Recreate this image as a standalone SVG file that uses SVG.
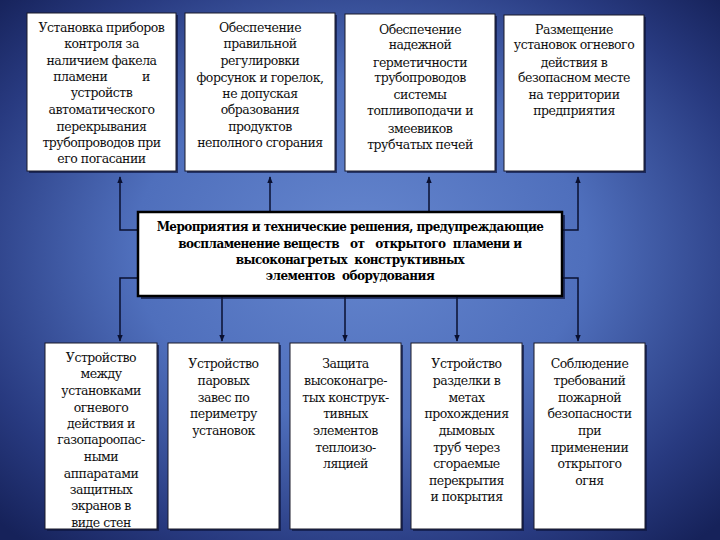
<svg xmlns="http://www.w3.org/2000/svg" width="720" height="540" viewBox="0 0 720 540">
<defs>
<radialGradient id="bg" cx="50%" cy="48%" r="70%" fx="50%" fy="45%">
<stop offset="0" stop-color="#6586ce"/>
<stop offset="0.45" stop-color="#4f6fbc"/>
<stop offset="0.8" stop-color="#283a80"/>
<stop offset="1" stop-color="#16225a"/>
</radialGradient>
<marker id="ah" viewBox="0 0 10 10" refX="9" refY="5" markerWidth="7" markerHeight="7" orient="auto" markerUnits="userSpaceOnUse">
<path d="M0,1 L10,5 L0,9 z" fill="#0a1030"/>
</marker>
<style>
.box{fill:#fff;stroke:#1a1a2a;stroke-width:1}
.shadow{fill:#0d1640;opacity:0.7}
.main{fill:#fff;stroke:#000;stroke-width:2.5}
.t{font-family:"DejaVu Serif",serif;font-size:12.5px;letter-spacing:-0.5px;fill:#111;text-anchor:middle}
.b{font-family:"DejaVu Serif",serif;font-size:12px;letter-spacing:-0.55px;font-weight:bold;fill:#000;text-anchor:middle}
.c{fill:none;stroke:#0a1030;stroke-width:1.5}
</style>
</defs>
<rect x="0" y="0" width="720" height="540" fill="url(#bg)"/>

<g id="connectors">
<polyline class="c" points="138,230 120,230 120,177" marker-end="url(#ah)"/>
<line class="c" x1="270" y1="212" x2="270" y2="177" marker-end="url(#ah)"/>
<line class="c" x1="429" y1="212" x2="429" y2="177" marker-end="url(#ah)"/>
<polyline class="c" points="562,230 578,230 578,177" marker-end="url(#ah)"/>
<polyline class="c" points="138,278 120,278 120,341" marker-end="url(#ah)"/>
<line class="c" x1="222" y1="296" x2="222" y2="341" marker-end="url(#ah)"/>
<line class="c" x1="345" y1="296" x2="345" y2="341" marker-end="url(#ah)"/>
<line class="c" x1="457" y1="296" x2="457" y2="341" marker-end="url(#ah)"/>
<polyline class="c" points="562,278 578,278 578,341" marker-end="url(#ah)"/>
</g>

<g id="top1">
<rect class="shadow" x="29" y="15" width="149" height="158"/>
<rect class="box" x="27" y="13" width="149" height="158"/>
<text class="t" x="101.5" y="32">Установка приборов</text>
<text class="t" x="101.5" y="48">контроля за</text>
<text class="t" x="101.5" y="65">наличием  факела</text>
<text class="t" x="101.5" y="81" xml:space="preserve">пламени          и</text>
<text class="t" x="101.5" y="97">устройств</text>
<text class="t" x="101.5" y="114">автоматического</text>
<text class="t" x="101.5" y="131">перекрывания</text>
<text class="t" x="101.5" y="147">трубопроводов при</text>
<text class="t" x="101.5" y="163">его  погасании</text>
</g>

<g id="top2">
<rect class="shadow" x="187" y="15" width="150" height="158"/>
<rect class="box" x="185" y="13" width="150" height="158"/>
<text class="t" x="260" y="32">Обеспечение</text>
<text class="t" x="260" y="48">правильной</text>
<text class="t" x="260" y="65">регулировки</text>
<text class="t" x="260" y="82">форсунок  и горелок,</text>
<text class="t" x="260" y="98">не допуская</text>
<text class="t" x="260" y="114">образования</text>
<text class="t" x="260" y="131">продуктов</text>
<text class="t" x="260" y="147">неполного сгорания</text>
</g>

<g id="top3">
<rect class="shadow" x="347" y="16" width="150" height="157"/>
<rect class="box" x="345" y="14" width="150" height="157"/>
<text class="t" x="420" y="34">Обеспечение</text>
<text class="t" x="420" y="49">надежной</text>
<text class="t" x="420" y="67">герметичности</text>
<text class="t" x="420" y="82">трубопроводов</text>
<text class="t" x="420" y="99">системы</text>
<text class="t" x="420" y="115">топливоподачи и</text>
<text class="t" x="420" y="133">змеевиков</text>
<text class="t" x="420" y="149">трубчатых печей</text>
</g>

<g id="top4">
<rect class="shadow" x="506" y="17" width="140" height="156"/>
<rect class="box" x="504" y="15" width="140" height="156"/>
<text class="t" x="574" y="34">Размещение</text>
<text class="t" x="574" y="49">установок огневого</text>
<text class="t" x="574" y="67">действия в</text>
<text class="t" x="574" y="82">безопасном  месте</text>
<text class="t" x="574" y="99">на территории</text>
<text class="t" x="574" y="115">предприятия</text>
</g>

<g id="center">
<rect class="shadow" x="141" y="215" width="424" height="84"/>
<rect class="main" x="138" y="212" width="424" height="84"/>
<text class="b" x="350" y="231">Мероприятия и технические решения, предупреждающие</text>
<text class="b" x="350" y="248" xml:space="preserve">воспламенение веществ   от   открытого  пламени и</text>
<text class="b" x="350" y="264" xml:space="preserve">высоконагретых  конструктивных</text>
<text class="b" x="350" y="280" xml:space="preserve">элементов  оборудования</text>
</g>

<g id="bottom1">
<rect class="shadow" x="47" y="345" width="112" height="186"/>
<rect class="box" x="45" y="343" width="112" height="186"/>
<text class="t" x="101" y="362">Устройство</text>
<text class="t" x="101" y="378">между</text>
<text class="t" x="101" y="395">установками</text>
<text class="t" x="101" y="412">огневого</text>
<text class="t" x="101" y="428">действия и</text>
<text class="t" x="101" y="444">газопароопас-</text>
<text class="t" x="101" y="461">ными</text>
<text class="t" x="101" y="478">аппаратами</text>
<text class="t" x="101" y="494">защитных</text>
<text class="t" x="101" y="510">экранов  в</text>
<text class="t" x="101" y="527">виде стен</text>
</g>

<g id="bottom2">
<rect class="shadow" x="170" y="345" width="111" height="186"/>
<rect class="box" x="168" y="343" width="111" height="186"/>
<text class="t" x="223.5" y="368">Устройство</text>
<text class="t" x="223.5" y="385">паровых</text>
<text class="t" x="223.5" y="402">завес по</text>
<text class="t" x="223.5" y="418">периметру</text>
<text class="t" x="223.5" y="435">установок</text>
</g>

<g id="bottom3">
<rect class="shadow" x="292" y="345" width="111" height="186"/>
<rect class="box" x="290" y="343" width="111" height="186"/>
<text class="t" x="345.5" y="368">Защита</text>
<text class="t" x="345.5" y="385">высоконагре-</text>
<text class="t" x="345.5" y="402">тых конструк-</text>
<text class="t" x="345.5" y="418">тивных</text>
<text class="t" x="345.5" y="435">элементов</text>
<text class="t" x="345.5" y="452">теплоизо-</text>
<text class="t" x="345.5" y="468">ляцией</text>
</g>

<g id="bottom4">
<rect class="shadow" x="413" y="345" width="111" height="186"/>
<rect class="box" x="411" y="343" width="111" height="186"/>
<text class="t" x="466.5" y="368">Устройство</text>
<text class="t" x="466.5" y="385">разделки в</text>
<text class="t" x="466.5" y="402">метах</text>
<text class="t" x="466.5" y="418">прохождения</text>
<text class="t" x="466.5" y="435">дымовых</text>
<text class="t" x="466.5" y="452">труб через</text>
<text class="t" x="466.5" y="468">сгораемые</text>
<text class="t" x="466.5" y="485">перекрытия</text>
<text class="t" x="466.5" y="501">и покрытия</text>
</g>

<g id="bottom5">
<rect class="shadow" x="536" y="345" width="111" height="186"/>
<rect class="box" x="534" y="343" width="111" height="186"/>
<text class="t" x="589.5" y="368">Соблюдение</text>
<text class="t" x="589.5" y="385">требований</text>
<text class="t" x="589.5" y="402">пожарной</text>
<text class="t" x="589.5" y="418">безопасности</text>
<text class="t" x="589.5" y="435">при</text>
<text class="t" x="589.5" y="452">применении</text>
<text class="t" x="589.5" y="468">открытого</text>
<text class="t" x="589.5" y="485">огня</text>
</g>
</svg>
